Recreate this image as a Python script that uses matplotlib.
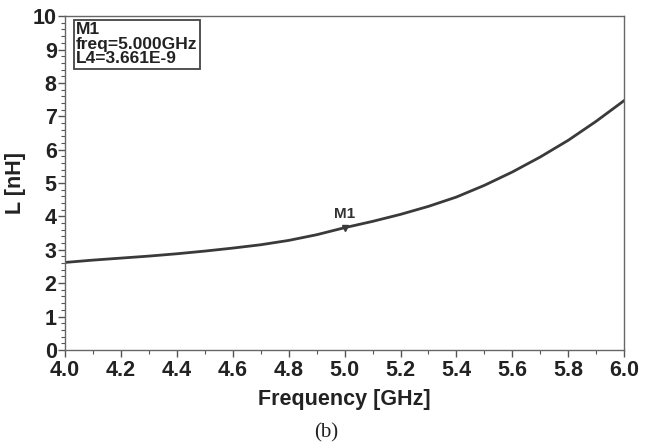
import numpy as np
import matplotlib.pyplot as plt
from matplotlib.ticker import MultipleLocator, FormatStrFormatter

# inductance vs frequency
freq = [4.0, 4.1, 4.2, 4.3, 4.4, 4.5, 4.6, 4.7, 4.8, 4.9, 5.0,
        5.1, 5.2, 5.3, 5.4, 5.5, 5.6, 5.7, 5.8, 5.9, 6.0]
ind_nh = [2.62, 2.69, 2.75, 2.81, 2.88, 2.96, 3.05, 3.15, 3.28, 3.45, 3.661,
          3.85, 4.06, 4.30, 4.58, 4.93, 5.33, 5.78, 6.28, 6.85, 7.47]

marker_f = 5.0
marker_l = 3.661

plt.rcParams['font.family'] = ['Liberation Sans', 'DejaVu Sans']

fig = plt.figure(figsize=(6.57, 4.48), dpi=100)
ax = fig.add_axes([0.099, 0.219, 0.851, 0.745])

ax.plot(freq, ind_nh, color='#3a3a3a', linewidth=2.0)
ax.plot([marker_f], [marker_l], marker='v', color='#3a3a3a', markersize=5,
        linestyle='none')
ax.annotate('M1', (marker_f, marker_l), xytext=(0, 5), textcoords='offset points',
            ha='center', va='bottom', fontsize=11, fontweight='bold', color='#333333')

ax.xaxis.set_major_locator(MultipleLocator(0.2))
ax.xaxis.set_minor_locator(MultipleLocator(0.1))
ax.xaxis.set_major_formatter(FormatStrFormatter('%.1f'))
ax.yaxis.set_major_locator(MultipleLocator(1))
ax.yaxis.set_minor_locator(MultipleLocator(0.2))
ax.set_xlim(4.0, 6.0)
ax.set_ylim(0, 10)

ax.tick_params(which='major', direction='out', length=5, width=1, color='#555555',
               labelsize=15.5, labelcolor='#222222')
ax.tick_params(axis='x', which='major', pad=2)
ax.tick_params(axis='y', which='major', pad=1)
ax.tick_params(which='minor', direction='out', length=3, width=0.8, color='#555555')
for lbl in ax.get_xticklabels() + ax.get_yticklabels():
    lbl.set_fontweight('bold')
for s in ax.spines.values():
    s.set_color('#666666')
    s.set_linewidth(1.0)

ax.set_xlabel('Frequency [GHz]', fontsize=15.5, fontweight='bold', color='#222222', labelpad=6)
ax.set_ylabel('L [nH]', fontsize=15.5, fontweight='bold', color='#222222', labelpad=5)

ax.text(0.02, 0.982, 'M1\nfreq=5.000GHz\nL4=3.661E-9', transform=ax.transAxes,
        ha='left', va='top', fontsize=12.5, fontweight='bold', color='#222222',
        linespacing=0.95,
        bbox=dict(boxstyle='square,pad=0.15', facecolor='white', edgecolor='#444444', linewidth=1.3))

fig.text(0.497, 0.033, '(b)', ha='center', va='center', fontsize=15,
         family=['Liberation Serif', 'DejaVu Serif'], color='#222222')

fig.savefig('out.png', dpi=100, facecolor='white')
